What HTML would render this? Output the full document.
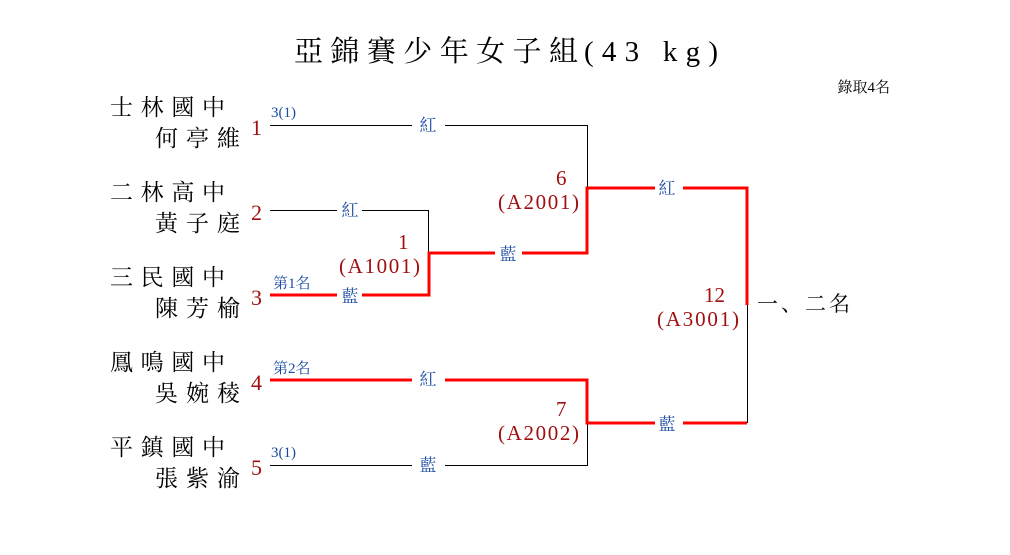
<!DOCTYPE html>
<html><head><meta charset="utf-8"><style>
html,body{margin:0;padding:0;background:#fff;}
svg text{font-family:"Liberation Serif","Noto Serif CJK SC","Noto Sans CJK TC",serif;}
</style></head><body>
<svg width="1010" height="550" xmlns="http://www.w3.org/2000/svg">
<text x="294" y="61" font-size="29" textLength="284" lengthAdjust="spacing" fill="#000">亞錦賽少年女子組</text>
<text x="584" y="61" font-size="29" textLength="134" lengthAdjust="spacing" fill="#000">(43 kg)</text>
<text x="890" y="92" font-size="15" text-anchor="end" fill="#000">錄取4名</text>

<g font-size="23" fill="#000" lengthAdjust="spacing">
<text x="110" y="115" textLength="115">士林國中</text><text x="155" y="146" textLength="85">何亭維</text>
<text x="110" y="200" textLength="115">二林高中</text><text x="155" y="231" textLength="85">黃子庭</text>
<text x="110" y="285" textLength="115">三民國中</text><text x="155" y="316" textLength="85">陳芳榆</text>
<text x="110" y="370" textLength="115">鳳鳴國中</text><text x="155" y="401" textLength="85">吳婉稜</text>
<text x="110" y="455" textLength="115">平鎮國中</text><text x="155" y="486" textLength="85">張紫渝</text>
</g>
<g font-size="22" fill="#a01010">
<text x="251" y="135">1</text><text x="251" y="220">2</text><text x="251" y="305">3</text>
<text x="251" y="390">4</text><text x="251" y="475">5</text>
</g>
<g font-size="15" fill="#1a4aa0">
<text x="271" y="117">3(1)</text>
<text x="273" y="288">第1名</text>
<text x="273" y="373">第2名</text>
<text x="271" y="457">3(1)</text>
</g>

<g stroke="#000" stroke-width="1" fill="none">
<path d="M270 125.5H412M445 125.5H587.5V188"/>
<path d="M270 210.5H337M362 210.5H428.5V253"/>
<path d="M587.5 423V465.5H445M412 465.5H270"/>
<path d="M747.5 305V423"/>
</g>
<g stroke="#ff0000" stroke-width="3" fill="none">
<path d="M270 295H337M362 295H429V253H495M522 253H587V188H655M683 188H747V305"/>
<path d="M270 380H412M445 380H587V423H655M683 423H747"/>
</g>
<g font-size="17" fill="#1a4aa0" text-anchor="middle">
<text x="428" y="131">紅</text>
<text x="350" y="216">紅</text>
<text x="350" y="302">藍</text>
<text x="508" y="260">藍</text>
<text x="667" y="194">紅</text>
<text x="428" y="385">紅</text>
<text x="428" y="471">藍</text>
<text x="667" y="430">藍</text>
</g>
<g font-size="21" fill="#a01010" lengthAdjust="spacing">
<text x="398" y="249">1</text><text x="339" y="273" textLength="81">(A1001)</text>
<text x="556" y="185">6</text><text x="498" y="209" textLength="81">(A2001)</text>
<text x="556" y="416">7</text><text x="498" y="440" textLength="81">(A2002)</text>
<text x="704" y="302">12</text><text x="657" y="326" textLength="82">(A3001)</text>
</g>
<text x="757" y="311" font-size="21" textLength="93" lengthAdjust="spacing" fill="#000">一、二名</text>
</svg>
</body></html>
